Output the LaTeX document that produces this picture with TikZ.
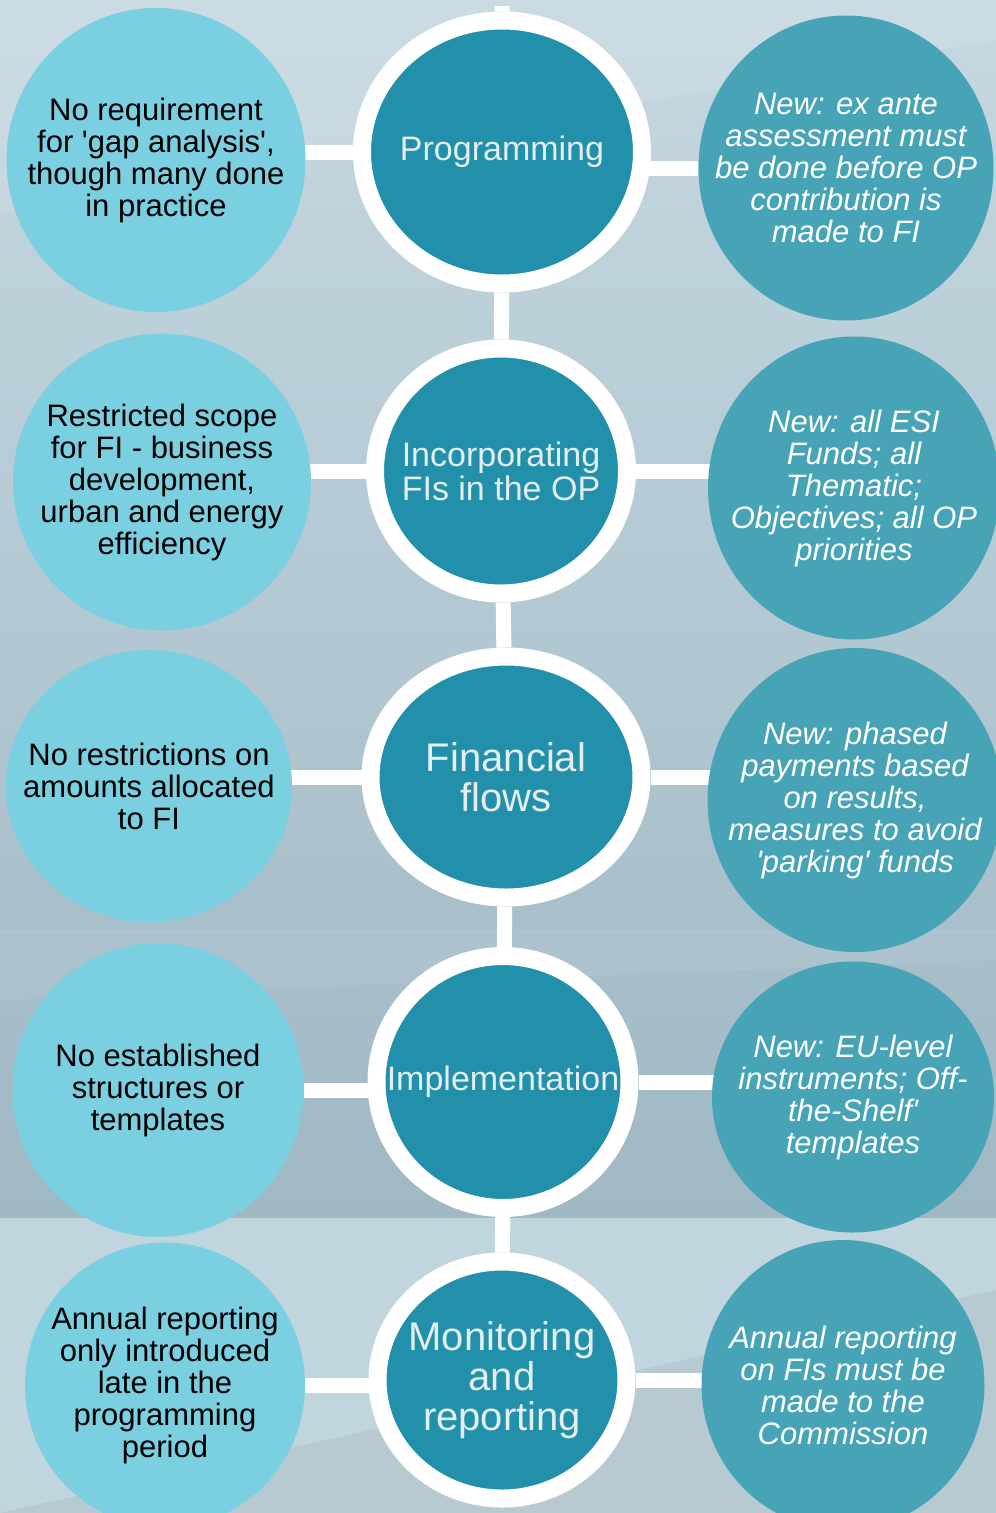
\documentclass[tikz,border=0pt]{standalone}
\usepackage{fontspec}
\setmainfont{Liberation Sans}
\usetikzlibrary{shapes.geometric}

\definecolor{bgtop}{HTML}{C6D8E1}
\definecolor{bgmid}{HTML}{9FB8C4}
\definecolor{bglow}{HTML}{C1D5DE}
\definecolor{hubcol}{HTML}{2290AB}
\definecolor{oldcol}{HTML}{7ACFE0}
\definecolor{newcol}{HTML}{47A4B7}
\definecolor{hubtext}{HTML}{E4EEEF}

\pgfdeclarelayer{bg}
\pgfdeclarelayer{links}
\pgfsetlayers{bg,links,main}

\tikzset{
  hub/.style={ellipse, fill=hubcol, draw=white, line width=18pt, inner sep=0pt},
  oldball/.style={ellipse, fill=oldcol, inner sep=0pt},
  newball/.style={ellipse, fill=newcol, inner sep=0pt},
  link/.style={white, line width=15pt},
  hubtxt/.style={text=hubtext, align=center, inner sep=0pt, font=\fontsize{34}{34}\selectfont},
  bigtxt/.style={hubtxt, font=\fontsize{40}{40}\selectfont},
  oldtxt/.style={text=black, align=center, inner sep=0pt, font=\fontsize{31}{32}\selectfont},
  newtxt/.style={text=white, align=center, inner sep=0pt, font=\fontsize{31}{32}\selectfont\itshape}
}

\begin{document}
\begin{tikzpicture}[x=1pt, y=-1pt]
    \useasboundingbox (0,0) rectangle (996,1513);
    \clip (0,0) rectangle (996,1513);

    % centre column
    \node[hub, minimum width=280pt, minimum height=263pt,
      label={[hubtxt]center:Programming}] (c1) at (502,152) {};
    \node[hub, minimum width=252pt, minimum height=245pt,
      label={[hubtxt]center:{Incorporating\\FIs in the OP}}] (c2) at (501,471) {};
    \node[hub, minimum width=271pt, minimum height=241pt,
      label={[bigtxt]center:{Financial\\flows}}] (c3) at (506,777) {};
    \node[hub, minimum width=253pt, minimum height=252pt,
      label={[hubtxt]center:Implementation}] (c4) at (503,1082) {};
    \node[hub, minimum width=249pt, minimum height=237pt,
      label={[bigtxt]center:{Monitoring\\and\\reporting}}] (c5) at (502,1380) {};

    % old period
    \node[oldball, minimum width=299pt, minimum height=304pt,
      label={[oldtxt]center:{No requirement\\for \textquotesingle gap analysis\textquotesingle,\\though many done\\in practice}}] (l1) at (156,160) {};
    \node[oldball, minimum width=298pt, minimum height=297pt,
      label={[oldtxt]center:{Restricted scope\\for FI - business\\development,\\urban and energy\\efficiency}}] (l2) at (162,482) {};
    \node[oldball, minimum width=286pt, minimum height=272pt,
      label={[oldtxt]center:{No restrictions on\\amounts allocated\\to FI}}] (l3) at (149,786) {};
    \node[oldball, minimum width=291pt, minimum height=294pt,
      label={[oldtxt]center:{No established\\structures or\\templates}}] (l4) at (158,1090) {};
    \node[oldball, minimum width=280pt, minimum height=285pt,
      label={[oldtxt]center:{Annual reporting\\only introduced\\late in the\\programming\\period}}] (l5) at (165,1385) {};

    % new period
    \node[newball, minimum width=295pt, minimum height=305pt,
      label={[newtxt]center:{New: ex ante\\assessment must\\be done before OP\\contribution is\\made to FI}}] (r1) at (846,168) {};
    \node[newball, minimum width=292pt, minimum height=303pt,
      label={[newtxt]center:{New: all ESI\\Funds; all\\Thematic;\\Objectives; all OP\\priorities}}] (r2) at (854,488) {};
    \node[newball, minimum width=295pt, minimum height=304pt,
      label={[newtxt]center:{New: phased\\payments based\\on results,\\measures to avoid\\\textquotesingle parking\textquotesingle\ funds}}] (r3) at (855,800) {};
    \node[newball, minimum width=282pt, minimum height=271pt,
      label={[newtxt]center:{New: EU-level\\instruments; Off-\\the-Shelf\textquotesingle\\templates}}] (r4) at (853,1097) {};
    \node[newball, minimum width=283pt, minimum height=290pt,
      label={[newtxt]center:{Annual reporting\\on FIs must be\\made to the\\Commission}}] (r5) at (843,1385) {};

    \coordinate (top) at (502,6);

    \begin{pgfonlayer}{links}
    \draw[link] (top) -- (c1) -- (c2) -- (c3) -- (c4) -- (c5);
    \draw[link] (c1) -- (c1 -| l1);
    \draw[link] (r1 -| c1) -- (r1);
    \draw[link] (c2) -- (c2 -| l2);
    \draw[link] (c2) -- (c2 -| r2);
    \draw[link] (c3) -- (c3 -| l3);
    \draw[link] (c3) -- (c3 -| r3);
    \draw[link] (l4 -| c4) -- (l4);
    \draw[link] (c4) -- (c4 -| r4);
    \draw[link] (l5 -| c5) -- (l5);
    \draw[link] (c5) -- (c5 -| r5);
    \end{pgfonlayer}

    \begin{pgfonlayer}{bg}
    \shade[top color=bgtop, bottom color=bgmid] (0,0) rectangle (996,1218);
    \fill[bglow] (0,1218) rectangle (996,1513);
    \fill[white, opacity=.10] (0,0) -- (996,0) -- (996,40) -- (0,215) -- cycle;
    \fill[white, opacity=.06] (0,930) -- (996,930) -- (996,960) -- (0,1000) -- cycle;
    \fill[black, opacity=.05] (0,1513) -- (996,1290) -- (996,1513) -- cycle;
    \end{pgfonlayer}
\end{tikzpicture}
\end{document}
